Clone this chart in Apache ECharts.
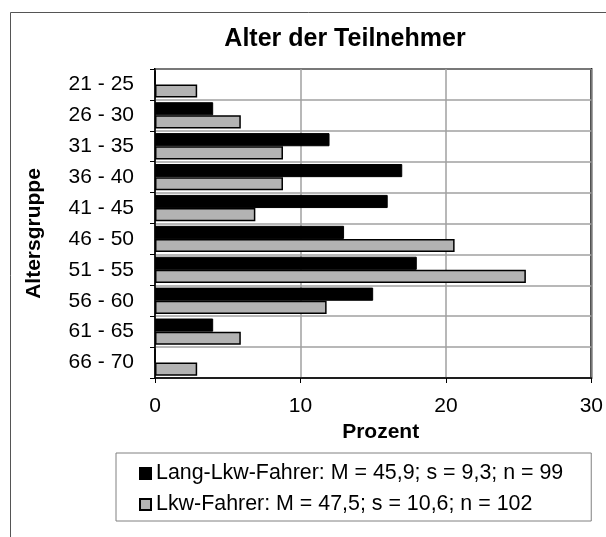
<!DOCTYPE html>
<html>
<head>
<meta charset="utf-8">
<script src="https://cdn.jsdelivr.net/npm/echarts@6/dist/echarts.min.js"></script>
<style>
html,body{margin:0;padding:0;background:#fff;}
#chart{width:606px;height:537px;}
</style>
</head>
<body>
<div id="chart"></div>
<script>
const categories = ['21 - 25','26 - 30','31 - 35','36 - 40','41 - 45','46 - 50','51 - 55','56 - 60','61 - 65','66 - 70'];
const langLkwValues = [0, 4, 12, 17, 16, 13, 18, 15, 4, 0];
const lkwValues = [2.9, 5.9, 8.8, 8.8, 6.9, 20.6, 25.5, 11.8, 5.9, 2.9];
const seriesNames = ['Lang-Lkw-Fahrer: M = 45,9; s = 9,3; n = 99', 'Lkw-Fahrer: M = 47,5; s = 10,6; n = 102'];
const xTicks = [0, 10, 20, 30];

const FONT = '"Liberation Sans", Arial, sans-serif';
const chart = echarts.init(document.getElementById('chart'), null, {renderer: 'canvas'});
chart.setOption({
  animation: false,
  backgroundColor: '#fff',
  textStyle: {fontFamily: FONT},
  title: {
    text: 'Alter der Teilnehmer',
    left: 345, textAlign: 'center', top: 27, padding: 0,
    textStyle: {fontFamily: FONT, fontSize: 25, fontWeight: 'bold', color: '#000'}
  },
  graphic: [{
    type: 'rect', silent: true, z: -1,
    shape: {x: 10.5, y: 12.5, width: 620, height: 560},
    style: {fill: 'none', stroke: '#555', lineWidth: 1}
  }],
  grid: {
    left: 155, right: 13, top: 69, bottom: 159,
    show: true, borderColor: '#000', borderWidth: 2, backgroundColor: 'transparent'
  },
  legend: {
    orient: 'vertical', left: 116, top: 453,
    data: seriesNames,
    icon: 'rect', itemWidth: 11, itemHeight: 11, itemGap: 10, itemTextGap: 5,
    padding: [10, 28, 6, 23],
    borderColor: '#808080', borderWidth: 1, backgroundColor: '#fff',
    textStyle: {fontFamily: FONT, fontSize: 21.4, lineHeight: 21, color: '#000'}
  },
  xAxis: {
    type: 'value', min: xTicks[0], max: xTicks[xTicks.length - 1], interval: 10,
    name: 'Prozent', nameLocation: 'middle', nameGap: 40,
    nameTextStyle: {fontFamily: FONT, fontSize: 21, fontWeight: 'bold', color: '#000', padding: [0, 0, 0, 15]},
    axisLine: {show: true, lineStyle: {color: '#000', width: 1.5}},
    axisTick: {show: true, length: 5, lineStyle: {color: '#000'}},
    axisLabel: {fontFamily: FONT, fontSize: 21, color: '#000', margin: 18},
    splitLine: {show: true, lineStyle: {color: '#a0a0a0', width: 1.5}}
  },
  yAxis: {
    type: 'category', data: categories, inverse: true,
    name: 'Altersgruppe', nameLocation: 'middle', nameGap: 110, nameRotate: 90,
    nameTextStyle: {fontFamily: FONT, fontSize: 21, fontWeight: 'bold', color: '#000', padding: [0, 20, 0, 0]},
    axisLine: {show: true, lineStyle: {color: '#000', width: 1.5}},
    axisTick: {show: true, length: 5, alignWithLabel: false, lineStyle: {color: '#000'}},
    axisLabel: {fontFamily: FONT, fontSize: 21, color: '#000', margin: 21},
    splitLine: {show: true, lineStyle: {color: '#a0a0a0', width: 1.5}}
  },
  series: [
    {
      name: seriesNames[0], type: 'bar', data: langLkwValues,
      barGap: '0%', barCategoryGap: '15%',
      itemStyle: {color: '#000', borderColor: '#000', borderWidth: 1}
    },
    {
      name: seriesNames[1], type: 'bar', data: lkwValues,
      barGap: '0%', barCategoryGap: '15%',
      itemStyle: {color: '#b3b3b3', borderColor: '#000', borderWidth: 1.5}
    }
  ]
});
</script>
</body>
</html>
